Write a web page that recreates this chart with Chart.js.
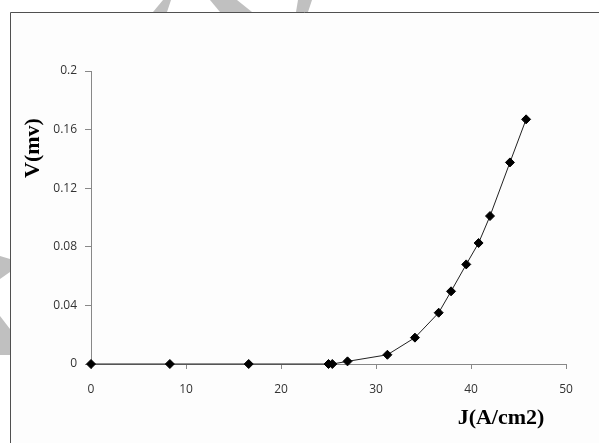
<!DOCTYPE html>
<html>
<head>
<meta charset="utf-8">
<script src="https://cdn.jsdelivr.net/npm/chart.js@4"></script>
<style>
  body { margin: 0; background: #ffffff; }
  .chart__container { width: 599px; height: 443px; position: relative; }
</style>
</head>
<body>
<div class="chart__container">
  <canvas id="myChart"></canvas>
</div>
<script>
// values
const currentDensity = [0, 8.3, 16.6, 25.0, 25.4, 27.0, 31.2, 34.1, 36.6, 37.9, 39.5, 40.8, 42.0, 44.1, 45.8];
const voltage = [0, 0, 0, 0, 0, 0.0018, 0.0063, 0.018, 0.035, 0.0496, 0.068, 0.0826, 0.101, 0.1376, 0.167];
const xTicks = [0, 10, 20, 30, 40, 50];
const yTicks = [0, 0.04, 0.08, 0.12, 0.16, 0.2];

const points = currentDensity.map((j, i) => ({ x: j, y: voltage[i] }));

// frame, grey watermark bits and the two axis titles
const decor = {
  id: "decor",
  beforeDraw: (chart) => {
    const ctx = chart.ctx;
    ctx.save();
    ctx.fillStyle = "#ffffff";
    ctx.fillRect(0, 0, chart.width, chart.height);
    ctx.fillStyle = "#c0c0c0";
    const shapes = [
      [[163, 0], [171, 0], [167, 12], [153, 12]],
      [[210, 0], [237, 0], [252, 12], [220, 12]],
      [[298, 0], [312, 0], [308, 12], [296, 12]],
      [[0, 256], [10, 259], [10, 272], [0, 279]],
      [[0, 316], [10, 329], [10, 355], [0, 355]],
    ];
    shapes.forEach((s) => {
      ctx.beginPath();
      ctx.moveTo(s[0][0], s[0][1]);
      s.slice(1).forEach((p) => ctx.lineTo(p[0], p[1]));
      ctx.closePath();
      ctx.fill();
    });
    ctx.fillStyle = "#fdfdfd";
    ctx.fillRect(10, 12, chart.width - 10, chart.height - 12);
    ctx.strokeStyle = "#505050";
    ctx.lineWidth = 1;
    ctx.beginPath();
    ctx.moveTo(10.5, chart.height);
    ctx.lineTo(10.5, 12.5);
    ctx.lineTo(chart.width, 12.5);
    ctx.stroke();
    ctx.restore();
  },
  afterDraw: (chart) => {
    const ctx = chart.ctx;
    ctx.save();
    ctx.fillStyle = "#000000";
    ctx.font = "bold 22px 'Liberation Serif'";
    ctx.textAlign = "center";
    ctx.textBaseline = "middle";
    ctx.fillText("J(A/cm2)", 501, 418);
    ctx.translate(33, 148);
    ctx.rotate(-Math.PI / 2);
    ctx.fillText("V(mv)", 0, 0);
    ctx.restore();
  },
};

const ctx = document.getElementById("myChart").getContext("2d");
const myChart = new Chart(ctx, {
  type: "scatter",
  data: {
    datasets: [
      {
        data: points,
        showLine: true,
        clip: false,
        borderColor: "#222222",
        borderWidth: 1,
        pointStyle: "rectRot",
        pointRadius: 4.5,
        pointBackgroundColor: "#000000",
        pointBorderColor: "#000000",
        pointBorderWidth: 1,
      },
    ],
  },
  options: {
    responsive: true,
    maintainAspectRatio: false,
    animation: false,
    layout: {
      padding: { left: 0, top: 71, right: 33, bottom: 49 },
    },
    plugins: {
      legend: { display: false },
      tooltip: { enabled: false },
    },
    scales: {
      x: {
        type: "linear",
        min: 0,
        max: 50,
        afterFit: (scale) => { scale.height = 30; },
        afterBuildTicks: (scale) => { scale.ticks = xTicks.map((v) => ({ value: v })); },
        grid: { drawOnChartArea: false, tickLength: 5, color: "#888888" },
        border: { color: "#888888" },
        ticks: {
          padding: 13,
          color: "#333333",
          font: { family: "'Open Sans'", size: 12 },
          callback: (v) => v,
        },
      },
      y: {
        type: "linear",
        min: 0,
        max: 0.2,
        afterFit: (scale) => { scale.width = 91; },
        afterBuildTicks: (scale) => { scale.ticks = yTicks.map((v) => ({ value: v })); },
        grid: { drawOnChartArea: false, tickLength: 6, color: "#888888" },
        border: { color: "#888888" },
        ticks: {
          padding: 8,
          color: "#333333",
          font: { family: "'Open Sans'", size: 12 },
          callback: (v) => String(+v.toFixed(2)),
        },
      },
    },
  },
  plugins: [decor],
});
</script>
</body>
</html>
